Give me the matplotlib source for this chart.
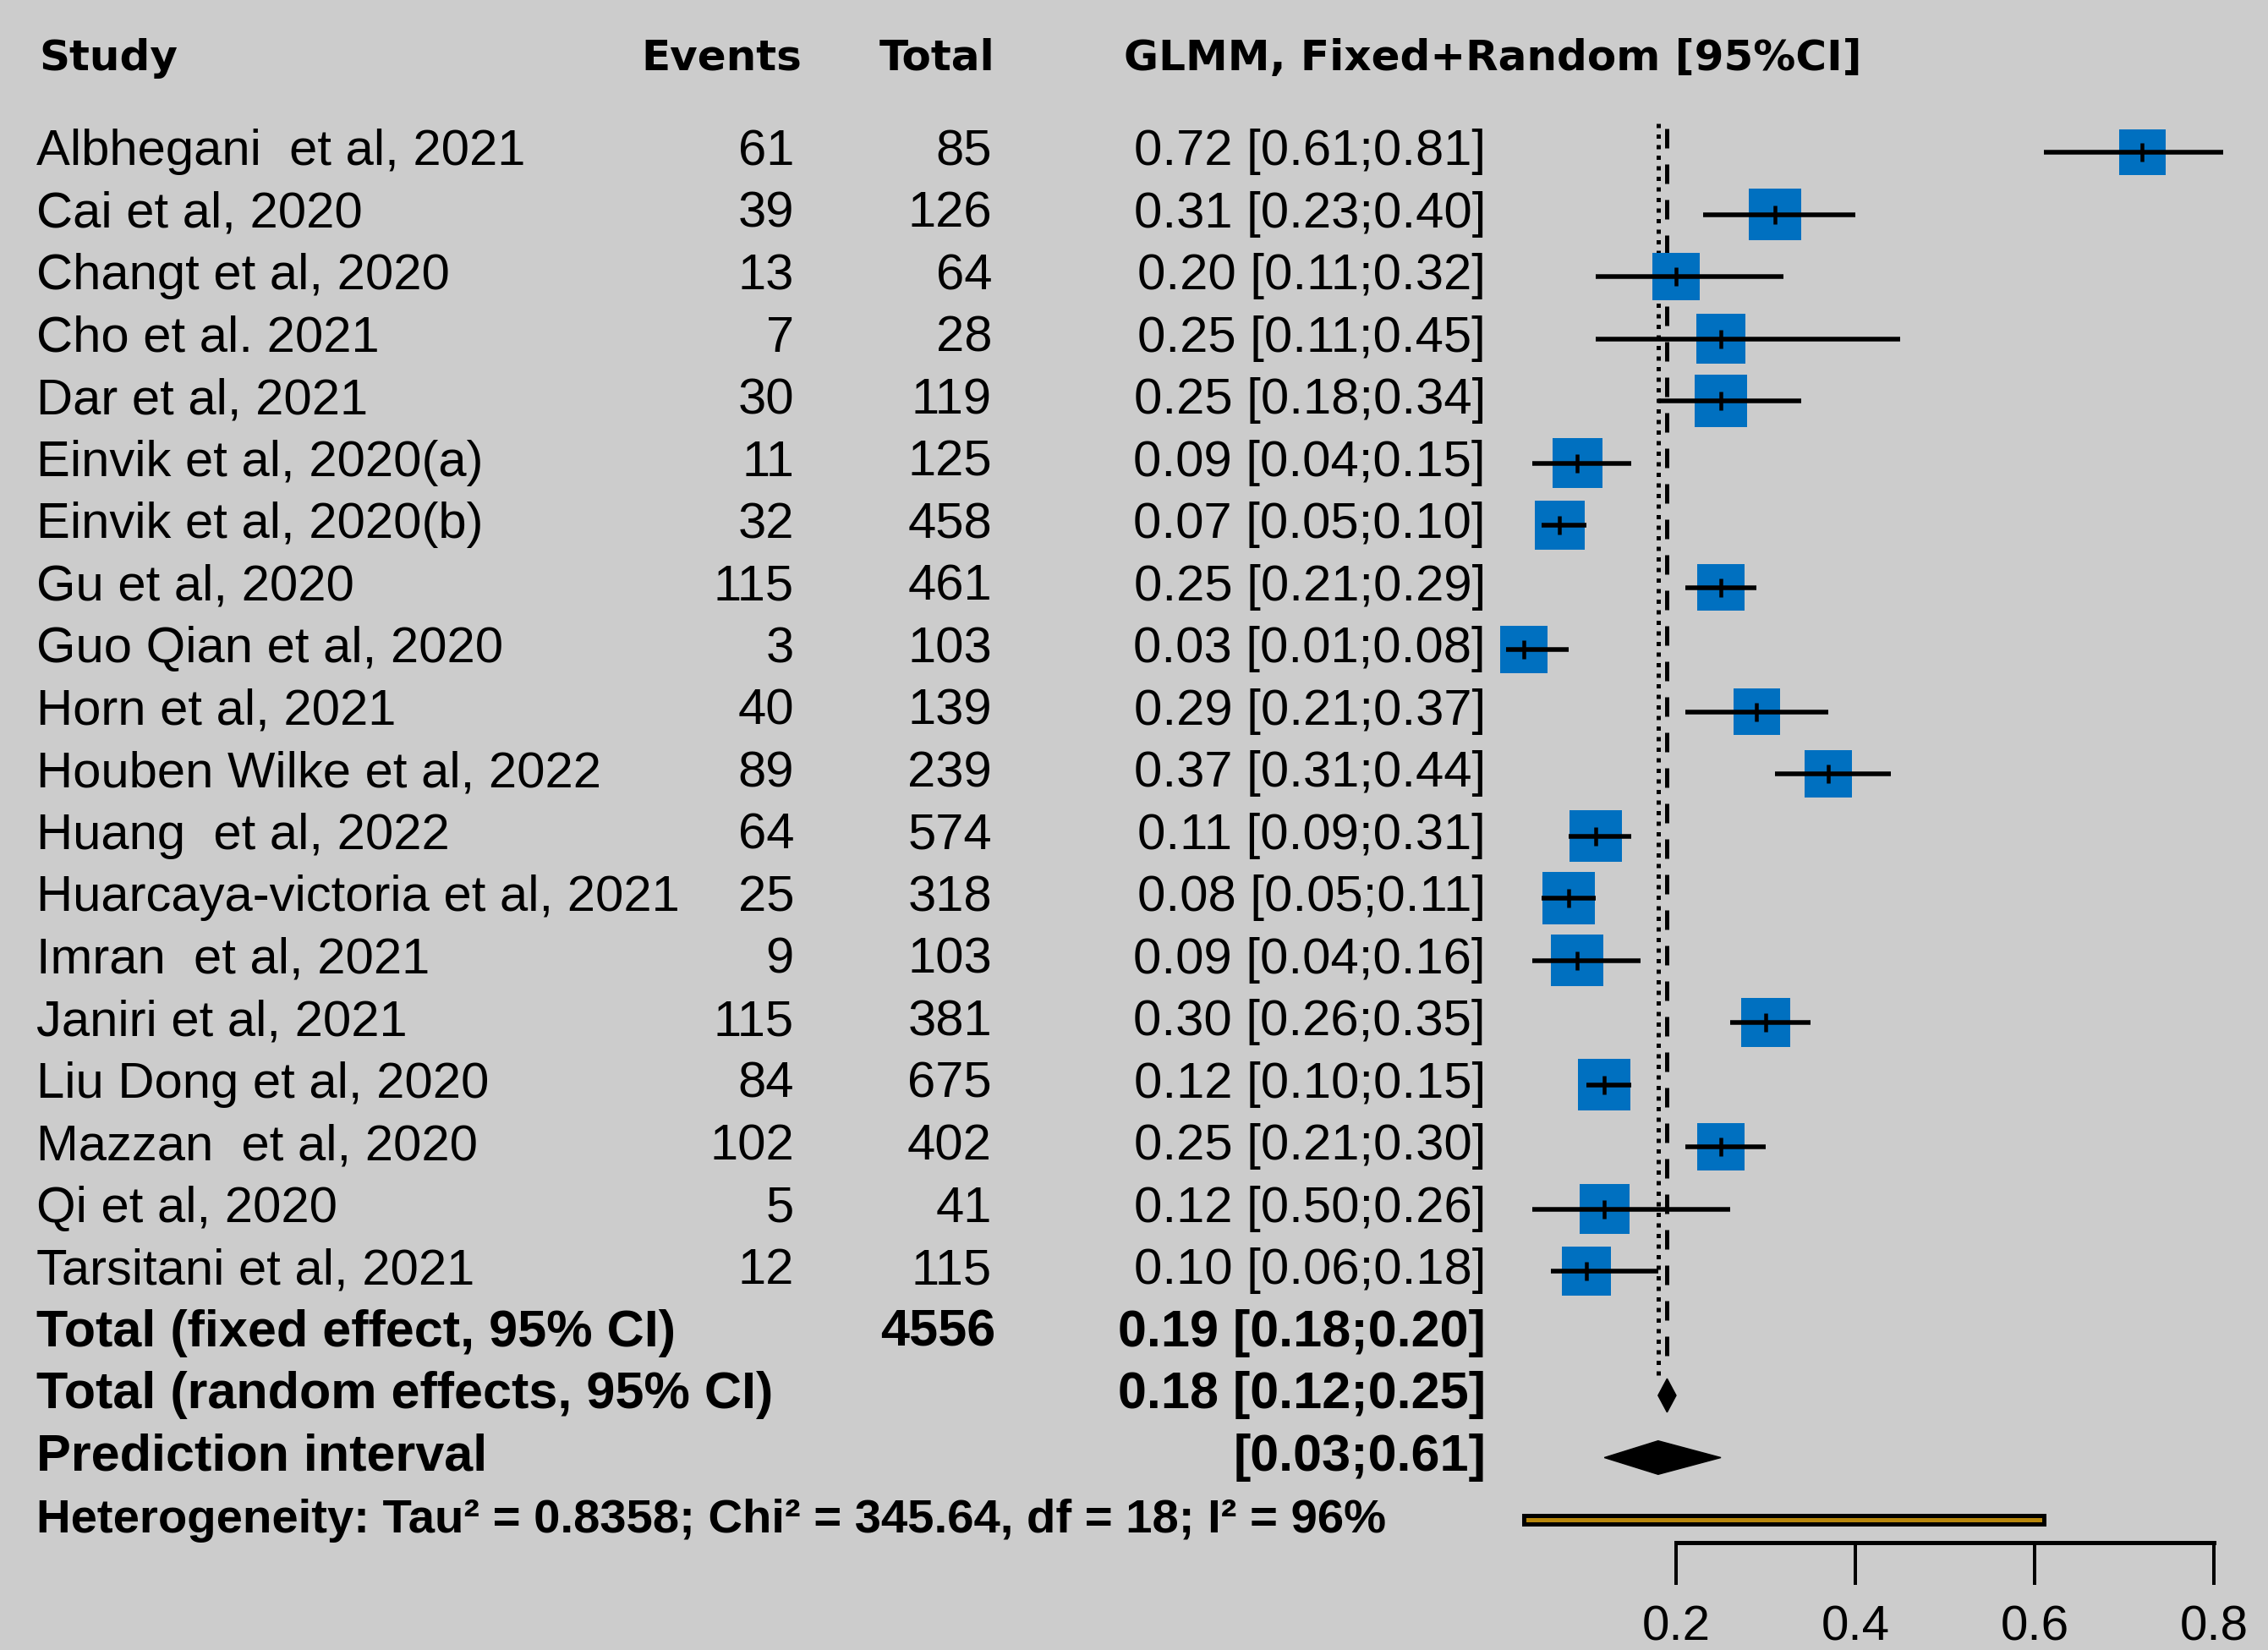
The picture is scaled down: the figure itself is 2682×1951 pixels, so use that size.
import matplotlib
matplotlib.use("Agg")
import matplotlib.pyplot as plt
import matplotlib.transforms as mtransforms
from matplotlib.patches import Polygon, Rectangle

# ------------------------------------------------------------------
# data
# ------------------------------------------------------------------
studies = ["Albhegani  et al, 2021", "Cai et al, 2020", "Changt et al, 2020",
           "Cho et al. 2021", "Dar et al, 2021", "Einvik et al, 2020(a)",
           "Einvik et al, 2020(b)", "Gu et al, 2020", "Guo Qian et al, 2020",
           "Horn et al, 2021", "Houben Wilke et al, 2022", "Huang  et al, 2022",
           "Huarcaya-victoria et al, 2021", "Imran  et al, 2021", "Janiri et al, 2021",
           "Liu Dong et al, 2020", "Mazzan  et al, 2020", "Qi et al, 2020",
           "Tarsitani et al, 2021"]
events = [61, 39, 13, 7, 30, 11, 32, 115, 3, 40, 89, 64, 25, 9, 115, 84, 102, 5, 12]
totals = [85, 126, 64, 28, 119, 125, 458, 461, 103, 139, 239, 574, 318, 103, 381, 675, 402, 41, 115]
prop = [0.72, 0.31, 0.20, 0.25, 0.25, 0.09, 0.07, 0.25, 0.03, 0.29,
        0.37, 0.11, 0.08, 0.09, 0.30, 0.12, 0.25, 0.12, 0.10]
ci_low = [0.61, 0.23, 0.11, 0.11, 0.18, 0.04, 0.05, 0.21, 0.01, 0.21,
          0.31, 0.08, 0.05, 0.04, 0.26, 0.10, 0.21, 0.04, 0.06]
ci_high = [0.81, 0.40, 0.32, 0.45, 0.34, 0.15, 0.10, 0.29, 0.08, 0.37,
           0.44, 0.15, 0.11, 0.16, 0.35, 0.15, 0.30, 0.26, 0.18]
weights = [4.6, 5.85, 4.75, 5.3, 5.85, 5.3, 5.3, 4.75, 4.75, 4.75,
           4.75, 5.85, 5.85, 5.85, 5.3, 5.85, 4.75, 5.3, 5.3]
# effect column as printed in the original
effect_text = ["0.72 [0.61;0.81]", "0.31 [0.23;0.40]", "0.20 [0.11;0.32]",
               "0.25 [0.11;0.45]", "0.25 [0.18;0.34]", "0.09 [0.04;0.15]",
               "0.07 [0.05;0.10]", "0.25 [0.21;0.29]", "0.03 [0.01;0.08]",
               "0.29 [0.21;0.37]", "0.37 [0.31;0.44]", "0.11 [0.09;0.31]",
               "0.08 [0.05;0.11]", "0.09 [0.04;0.16]", "0.30 [0.26;0.35]",
               "0.12 [0.10;0.15]", "0.25 [0.21;0.30]", "0.12 [0.50;0.26]",
               "0.10 [0.06;0.18]"]

fixed_est, fixed_low, fixed_high = 0.19, 0.18, 0.20
random_est, random_low, random_high = 0.18, 0.12, 0.25
pred_low, pred_high = 0.03, 0.61
heterogeneity = "Heterogeneity: Tau\u00b2 = 0.8358; Chi\u00b2 = 345.64, df = 18; I\u00b2 = 96%"
x_ticks = [0.2, 0.4, 0.6, 0.8]

# ------------------------------------------------------------------
# layout (pixel grid of the original picture)
# ------------------------------------------------------------------
W, H, DPI = 2682, 1951, 100
BG = "#CCCCCC"
BLUE = "#0070C0"
GOLD = "#B8860B"
X0_PX, PX_PER_UNIT = 1770, 1060      # where 0 sits, px per proportion unit
ROW0_PX, ROW_PX = 180, 73.5          # first study row, row height
PT = 72 / DPI                        # px -> pt

fig = plt.figure(figsize=(W / DPI, H / DPI), dpi=DPI, facecolor=BG)
ax = fig.add_axes([0, 0, 1, 1])
ax.set_facecolor(BG)
ax.set_xlim(-X0_PX / PX_PER_UNIT, (W - X0_PX) / PX_PER_UNIT)
ax.set_ylim((H - ROW0_PX) / ROW_PX, -ROW0_PX / ROW_PX)

n = len(studies)
rows = list(range(n))
row_fixed, row_random, row_pred, row_het = n, n + 1, n + 2, n + 3

# ------------------------------------------------------------------
# text columns
# ------------------------------------------------------------------
tr = mtransforms.blended_transform_factory(ax.transAxes, ax.transData)
col_name = 43 / W
col_events = 939 / W
col_total = 1173 / W
col_effect = 1757 / W
col_effect_head = 1329 / W
base = 0.21                           # baseline below row centre

body = dict(family="Liberation Sans", fontsize=43, va="baseline", transform=tr)
bold = dict(family="Liberation Sans", fontsize=44, fontweight="bold",
            va="baseline", transform=tr)
head = dict(family="DejaVu Sans", fontsize=36, fontweight="bold",
            va="baseline", transform=tr)

y_head = -1.32
ax.text(46 / W, y_head, "Study", ha="left", **head)
ax.text(948 / W, y_head, "Events", ha="right", **head)
ax.text(1177 / W, y_head, "Total", ha="right", **head)
ax.text(col_effect_head, y_head, "GLMM, Fixed+Random [95%CI]", ha="left", **head)

for i, (name, ev, tot, eff) in enumerate(zip(studies, events, totals, effect_text)):
    y = rows[i] + base
    ax.text(col_name, y, name, ha="left", **body)
    ax.text(col_events, y, str(ev), ha="right", **body)
    ax.text(col_total, y, str(tot), ha="right", **body)
    ax.text(col_effect, y, eff, ha="right", **body)

ax.text(col_name, row_fixed + base, "Total (fixed effect, 95% CI)", ha="left", **bold)
ax.text(1177 / W, row_fixed + base, str(sum(totals)), ha="right", **bold)
ax.text(col_effect, row_fixed + base,
        f"{fixed_est:.2f} [{fixed_low:.2f};{fixed_high:.2f}]", ha="right", **bold)
ax.text(col_name, row_random + base, "Total (random effects, 95% CI)", ha="left", **bold)
ax.text(col_effect, row_random + base,
        f"{random_est:.2f} [{random_low:.2f};{random_high:.2f}]", ha="right", **bold)
ax.text(col_name, row_pred + base, "Prediction interval", ha="left", **bold)
ax.text(col_effect, row_pred + base, f"[{pred_low:.2f};{pred_high:.2f}]",
        ha="right", **bold)
het = dict(bold, fontsize=40.5)
ax.text(col_name, row_het + base, heterogeneity, ha="left", **het)

# ------------------------------------------------------------------
# forest part
# ------------------------------------------------------------------
# reference lines: dashed = fixed effect, dotted = random effects
ax.vlines(fixed_est, -0.38, row_fixed + 0.55, colors="black",
          linewidth=5 * PT, linestyles=(0, (4.6, 3.8)), zorder=1)
ax.vlines(random_est, -0.46, row_random - 0.28, colors="black",
          linewidth=5 * PT, linestyles=(0, (1.0, 1.5)), zorder=1)

sides_pt = [25.6 * w ** 0.5 * PT for w in weights]
ax.scatter(prop, rows, s=[s ** 2 for s in sides_pt], marker="s",
           color=BLUE, linewidths=0, zorder=2)
ax.hlines(rows, ci_low, ci_high, colors="black", linewidth=5.5 * PT, zorder=3)
ax.plot(prop, rows, linestyle="none", marker="|", markersize=22 * PT,
        markeredgewidth=4.5 * PT, color="black", zorder=4)

# summary diamonds (drawn one row below their labels, as in the original)
half = 0.27
for est, lo, hi, y in [(fixed_est, fixed_low, fixed_high, row_random),
                       (random_est, random_low, random_high, row_pred)]:
    ax.add_patch(Polygon([(lo, y), (est, y - half), (hi, y), (est, y + half)],
                         closed=True, facecolor="black", edgecolor="black",
                         linewidth=1, zorder=3))

# prediction interval bar
bar_h = 10 / ROW_PX
ax.add_patch(Rectangle((pred_low, row_het - bar_h / 2), pred_high - pred_low, bar_h,
                       facecolor=GOLD, edgecolor="black", linewidth=5 * PT, zorder=3))

# ------------------------------------------------------------------
# x axis
# ------------------------------------------------------------------
for side in ["top", "left", "right"]:
    ax.spines[side].set_visible(False)
ax.spines["bottom"].set_position(("data", (1824 - ROW0_PX) / ROW_PX))
ax.spines["bottom"].set_bounds(x_ticks[0], x_ticks[-1])
ax.spines["bottom"].set_linewidth(5 * PT)
ax.set_yticks([])
ax.set_xticks(x_ticks)
ax.set_xticklabels([f"{t:.1f}" for t in x_ticks], family="Liberation Sans", fontsize=42)
ax.tick_params(axis="x", direction="out", length=50 * PT, width=4 * PT, pad=17)

fig.savefig("out.png", dpi=DPI, facecolor=BG)
